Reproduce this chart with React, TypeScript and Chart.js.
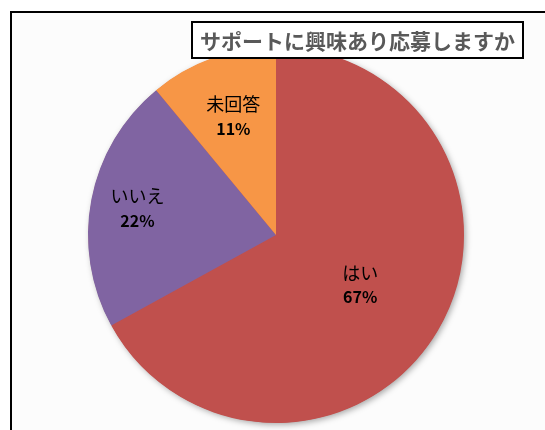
import React, { useEffect, useRef } from "react";
import { Chart, registerables } from "chart.js";

Chart.register(...registerables);

const categories = ["はい", "いいえ", "未回答"];
const percents = [67, 22, 11];
const sliceColors = ["#C0504D", "#8064A2", "#F79646"];
const labelRadiusFractions = [0.52, 0.75, 0.67];
const chartTitle = "サポートに興味あり応募しますか";

const JP_FONT = '"Noto Sans CJK JP", "Noto Sans", sans-serif';

const framePlugin = {
  id: "frame",
  beforeDraw(chart: any) {
    const ctx = chart.ctx;
    ctx.save();
    ctx.fillStyle = "#FFFFFF";
    ctx.fillRect(0, 0, chart.width, chart.height);
    ctx.fillStyle = "#FCFCFC";
    ctx.fillRect(11, 12, chart.width, chart.height);
    ctx.strokeStyle = "#000000";
    ctx.lineWidth = 2;
    ctx.strokeRect(11, 12, chart.width + 50, chart.height + 50);
    ctx.restore();
  },
  beforeDatasetsDraw(chart: any) {
    const meta = chart.getDatasetMeta(0);
    const arc = meta.data[0];
    if (!arc) return;
    const ctx = chart.ctx;
    ctx.save();
    ctx.shadowColor = "rgba(0,0,0,0.35)";
    ctx.shadowBlur = 6;
    ctx.shadowOffsetX = 2;
    ctx.shadowOffsetY = 2;
    ctx.fillStyle = "#C0504D";
    ctx.beginPath();
    ctx.arc(arc.x, arc.y, arc.outerRadius - 0.5, 0, Math.PI * 2);
    ctx.fill();
    ctx.restore();
  },
  afterDatasetsDraw(chart: any) {
    const ctx = chart.ctx;
    const meta = chart.getDatasetMeta(0);
    ctx.save();
    ctx.textAlign = "center";
    ctx.textBaseline = "middle";
    meta.data.forEach((arc: any, i: number) => {
      const mid = (arc.startAngle + arc.endAngle) / 2;
      const r = arc.outerRadius * labelRadiusFractions[i];
      const x = arc.x + Math.cos(mid) * r;
      const y = arc.y + Math.sin(mid) * r;
      ctx.fillStyle = "#000000";
      ctx.font = `18px ${JP_FONT}`;
      ctx.fillText(categories[i], x, y - 12);
      ctx.font = `bold 16px ${JP_FONT}`;
      ctx.fillText(`${percents[i]}%`, x, y + 12);
    });
    // title box
    const bx = 192, by = 22, bw = 331, bh = 36;
    ctx.fillStyle = "#FFFFFF";
    ctx.fillRect(bx, by, bw, bh);
    ctx.strokeStyle = "#000000";
    ctx.lineWidth = 2;
    ctx.strokeRect(bx, by, bw, bh);
    ctx.fillStyle = "#595959";
    ctx.font = `bold 21px ${JP_FONT}`;
    ctx.fillText(chartTitle, bx + bw / 2, by + bh / 2 + 1);
    ctx.restore();
  },
};

export default function App() {
  const canvasRef = useRef<HTMLCanvasElement | null>(null);

  useEffect(() => {
    document.body.style.margin = "0";
    const canvas = canvasRef.current;
    if (!canvas) return;
    const chart = new Chart(canvas, {
      type: "pie",
      data: {
        labels: categories,
        datasets: [
          {
            data: percents,
            backgroundColor: sliceColors,
            borderWidth: 0,
          },
        ],
      },
      options: {
        responsive: false,
        animation: false,
        layout: { padding: { left: 88, right: 81, top: 47, bottom: 7 } },
        plugins: {
          legend: { display: false },
          tooltip: { enabled: false },
          title: { display: false },
        },
      },
      plugins: [framePlugin],
    });
    return () => chart.destroy();
  }, []);

  return (
    <div style={{ position: "fixed", left: 0, top: 0, width: 545, height: 430 }}>
      <canvas ref={canvasRef} width={545} height={430} />
    </div>
  );
}
